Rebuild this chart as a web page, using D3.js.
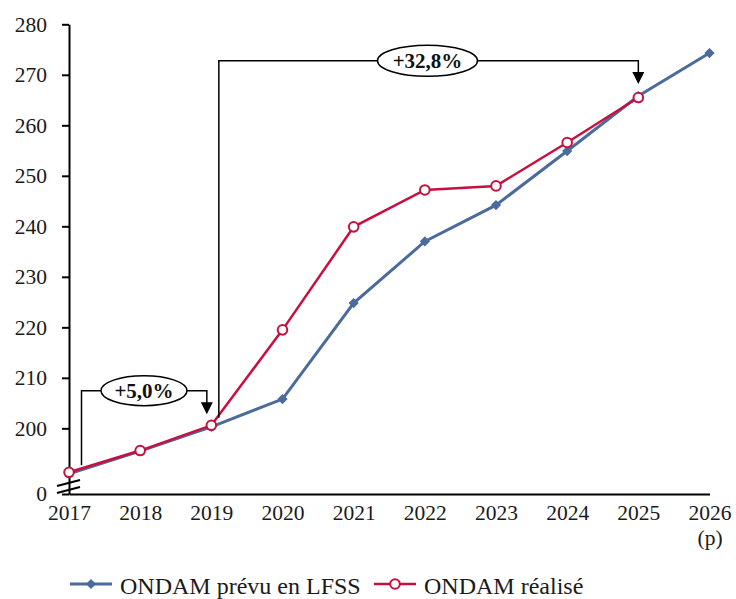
<!DOCTYPE html>
<html>
<head>
<meta charset="utf-8">
<script src="https://cdn.jsdelivr.net/npm/d3@7"></script>
<style>
  html, body { margin: 0; padding: 0; background: #fff; }
  svg { display: block; font-family: "Liberation Serif", "Times New Roman", serif; }
</style>
</head>
<body>
<svg id="chart" width="736" height="599"></svg>
<script>
// ---- Data ----
const years = [2017, 2018, 2019, 2020, 2021, 2022, 2023, 2024, 2025, 2026];
const xTickLabels = ["2017", "2018", "2019", "2020", "2021", "2022", "2023", "2024", "2025", "2026"];
const xSubLabels = ["", "", "", "", "", "", "", "", "", "(p)"];
const prevuLFSS = [191.0, 195.5, 200.3, 205.8, 224.8, 237.0, 244.2, 254.9, 265.8, 274.3];
const realiseYears = [2017, 2018, 2019, 2020, 2021, 2022, 2023, 2024, 2025];
const realise = [191.3, 195.6, 200.6, 219.5, 239.9, 247.2, 248.0, 256.6, 265.5];
const yTickValues = [187, 200, 210, 220, 230, 240, 250, 260, 270, 280];
const yTickLabels = ["0", "200", "210", "220", "230", "240", "250", "260", "270", "280"];
const seriesNames = ["ONDAM prévu en LFSS", "ONDAM réalisé"];
const annotationLabels = ["+5,0%", "+32,8%"];

const BLUE = "#4a6b9c";
const RED = "#c8103e";
const FONT = "Liberation Serif, serif";

const svg = d3.select("#chart");

const x = d3.scaleLinear().domain([2017, 2026]).range([69, 709.5]);
const y = d3.scaleLinear().domain([187, 280]).range([494, 24.3]);

// ---- Axes ----
const yLabelMap = new Map(yTickValues.map((v, i) => [v, yTickLabels[i]]));
const yAxis = d3.axisLeft(y).tickValues(yTickValues).tickSize(7).tickPadding(15).tickSizeOuter(0)
  .tickFormat(d => yLabelMap.get(d));
const gy = svg.append("g").attr("transform", `translate(${x(2017)},0)`).call(yAxis)
  .attr("font-family", FONT).attr("font-size", 21.5);
gy.selectAll("path, line").attr("stroke", "#000").attr("stroke-width", 2);
gy.selectAll("text").attr("fill", "#1a1a1a");

const xAxis = d3.axisBottom(x).tickValues(years).tickSize(0).tickPadding(11).tickSizeOuter(0)
  .tickFormat((d, i) => xTickLabels[i]);
const gx = svg.append("g").attr("transform", `translate(0,${y(187)})`).call(xAxis)
  .attr("font-family", FONT).attr("font-size", 21.5);
gx.selectAll("path").attr("stroke", "#000").attr("stroke-width", 2);
gx.selectAll("text").attr("fill", "#1a1a1a");
gx.selectAll(".tick").each(function(d, i) {
  if (xSubLabels[i]) {
    d3.select(this).append("text")
      .attr("y", 11 + 21.5 * 1.15).attr("dy", "0.71em")
      .attr("text-anchor", "middle")
      .attr("fill", "#1a1a1a")
      .text(xSubLabels[i]);
  }
});

// Axis break marks
const bx = x(2017);
const breakG = svg.append("g").attr("stroke", "#000").attr("stroke-width", 2);
[[y(187) - 8, y(187) - 14], [y(187) - 1, y(187) - 7]].forEach(([yl, yr]) => {
  breakG.append("line").attr("x1", bx - 12).attr("y1", yl).attr("x2", bx + 11).attr("y2", yr);
});

// ---- Lines ----
const lineGen = d3.line().x(d => x(d[0])).y(d => y(d[1]));
const prevuData = years.map((yr, i) => [yr, prevuLFSS[i]]);
const realData = realiseYears.map((yr, i) => [yr, realise[i]]);

svg.append("path").datum(prevuData).attr("d", lineGen)
  .attr("fill", "none").attr("stroke", BLUE).attr("stroke-width", 3);
const diamond = d3.symbol().type(d3.symbolSquare).size(52);
svg.append("g").selectAll("path").data(prevuData).join("path")
  .attr("d", diamond)
  .attr("transform", d => `translate(${x(d[0])},${y(d[1])}) rotate(45)`)
  .attr("fill", BLUE);

svg.append("path").datum(realData).attr("d", lineGen)
  .attr("fill", "none").attr("stroke", RED).attr("stroke-width", 2.5);
svg.append("g").selectAll("circle").data(realData).join("circle")
  .attr("cx", d => x(d[0])).attr("cy", d => y(d[1])).attr("r", 4.8)
  .attr("fill", "#fff").attr("stroke", RED).attr("stroke-width", 2);

// ---- Annotations ----
function arrowHead(g, cx, tipY) {
  g.append("path")
    .attr("d", `M${cx - 6},${tipY - 12} L${cx + 6},${tipY - 12} L${cx},${tipY} Z`)
    .attr("fill", "#000");
}
const ann = svg.append("g").attr("font-family", FONT);
// +5,0%
{
  const xl = x(2017) + 12.5, xr = x(2019) - 4.5;
  const yTop = 390.7, yBottom = y(realise[0]) - 7, tip = y(realise[2]) - 11;
  ann.append("path")
    .attr("d", `M${xl},${yBottom} V${yTop} H${xr} V${tip - 11}`)
    .attr("fill", "none").attr("stroke", "#000").attr("stroke-width", 1.5);
  arrowHead(ann, xr, tip);
  const cx = 144, cy = yTop;
  ann.append("ellipse").attr("cx", cx).attr("cy", cy).attr("rx", 43).attr("ry", 15)
    .attr("fill", "#fff").attr("stroke", "#000").attr("stroke-width", 1.5);
  ann.append("text").attr("x", cx).attr("y", cy).attr("dy", "0.35em")
    .attr("text-anchor", "middle").attr("font-size", 21).attr("font-weight", "bold")
    .attr("fill", "#111").text(annotationLabels[0]);
}
// +32,8%
{
  const xl = x(2019) + 7.5, xr = x(2025);
  const yTop = 60.7, yBottom = y(prevuLFSS[2]) - 9, tip = y(prevuLFSS[8]) - 12;
  ann.append("path")
    .attr("d", `M${xl},${yBottom} V${yTop} H${xr} V${tip - 11}`)
    .attr("fill", "none").attr("stroke", "#000").attr("stroke-width", 1.5);
  arrowHead(ann, xr, tip);
  const cx = 427.5, cy = yTop;
  ann.append("ellipse").attr("cx", cx).attr("cy", cy).attr("rx", 50).attr("ry", 15.5)
    .attr("fill", "#fff").attr("stroke", "#000").attr("stroke-width", 1.5);
  ann.append("text").attr("x", cx).attr("y", cy).attr("dy", "0.35em")
    .attr("text-anchor", "middle").attr("font-size", 21).attr("font-weight", "bold")
    .attr("fill", "#111").text(annotationLabels[1]);
}

// ---- Legend ----
const leg = svg.append("g").attr("font-family", FONT);
const legY = 584;
const legBase = 593.5;
leg.append("line").attr("x1", 70).attr("x2", 112).attr("y1", legY).attr("y2", legY)
  .attr("stroke", BLUE).attr("stroke-width", 3);
leg.append("path").attr("d", diamond).attr("transform", `translate(91,${legY}) rotate(45)`).attr("fill", BLUE);
leg.append("text").attr("x", 120).attr("y", legBase).attr("font-size", 24).attr("fill", "#1a1a1a")
  .text(seriesNames[0]);
leg.append("line").attr("x1", 374).attr("x2", 416).attr("y1", legY).attr("y2", legY)
  .attr("stroke", RED).attr("stroke-width", 2.5);
leg.append("circle").attr("cx", 395).attr("cy", legY).attr("r", 4.8)
  .attr("fill", "#fff").attr("stroke", RED).attr("stroke-width", 2);
leg.append("text").attr("x", 424).attr("y", legBase).attr("font-size", 24).attr("fill", "#1a1a1a")
  .text(seriesNames[1]);
</script>
</body>
</html>
